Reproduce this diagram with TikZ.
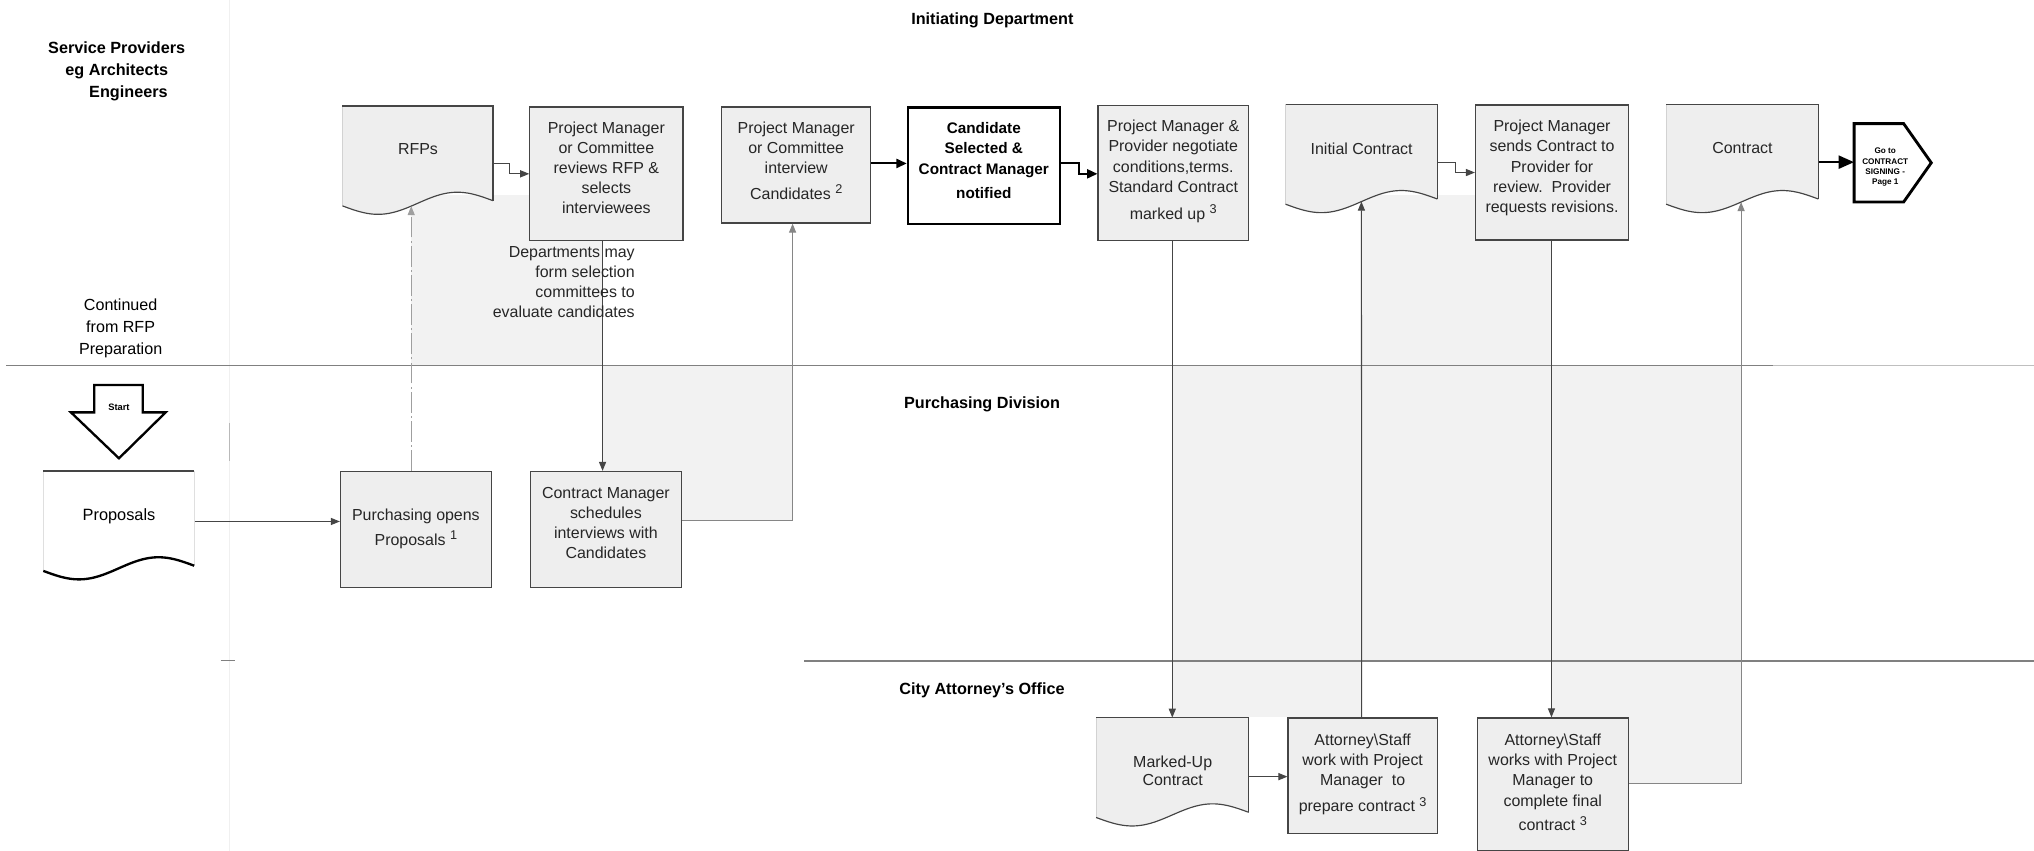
\documentclass[tikz,border=0pt]{standalone}
\usepackage{fontspec}
\setmainfont{Liberation Sans}
\usetikzlibrary{arrows.meta,calc}

\definecolor{boxfill}{HTML}{EEEEEE}
\definecolor{shadefill}{HTML}{F2F2F2}
\definecolor{ink}{HTML}{262626}
\definecolor{edge}{HTML}{454545}
\definecolor{laneline}{HTML}{808080}

% raised footnote number after a line of text
\newcommand{\upnum}[1]{\raisebox{4.3pt}{\fontsize{9.8}{9.8}\selectfont #1}}

% paper document symbol drawn over an (invisible) anchor node
\newcommand{\paperdoc}[3]{% #1 node name, #2 width, #3 fill colour
  \begin{scope}[shift={(#1.north west)}]
    \fill[#3] (0,0) -- (#2,0) -- (#2,73)
      -- plot[domain=#2:0,samples=60] (\x,{77-4*\x/#2+7.5*sin((360/#2)*\x)}) -- cycle;
    \draw[lightedge] (0,0) -- (0,77);
    \draw[docedge] (0,0) -- (#2,0) -- (#2,73);
    \draw[docedge] plot[domain=#2:0,samples=60] (\x,{77-4*\x/#2+7.5*sin((360/#2)*\x)});
  \end{scope}}

\begin{document}
\begin{tikzpicture}[x=1pt,y=-1pt,
  box/.style={draw=edge,line width=0.9pt,fill=boxfill,anchor=north west,inner sep=0pt},
  docbox/.style={anchor=north west,inner sep=0pt,minimum height=83pt},
  txt/.style={align=center,inner sep=0pt,text=ink,font=\fontsize{12.3}{15.5}\selectfont},
  btxt/.style={align=center,inner sep=0pt,text=black,font=\bfseries\fontsize{11.8}{15.7}\selectfont},
  lanetitle/.style={inner sep=0pt,font=\bfseries\fontsize{12.5}{17}\selectfont},
  lightedge/.style={draw=gray!35,line width=0.6pt},
  docedge/.style={draw=edge,line width=0.9pt},
  conn/.style={draw=edge,line width=0.8pt,-{Triangle[length=7pt,width=5.5pt]}},
  connpale/.style={conn,draw=edge!65},
  conndash/.style={conn,draw=gray!75,dash pattern=on 16pt off 2.5pt on 1.5pt off 2.5pt},
  connbold/.style={draw=black,line width=1.6pt,-{Triangle[length=8pt,width=7pt]}},
  connbig/.style={draw=black,line width=2pt,-{Triangle[length=12pt,width=10pt]}},
]
\useasboundingbox (0,0) rectangle (1568,656);

% faint margin guide
\draw[gray!12,line width=0.8pt] (177,0) -- (177,656);
\draw[gray!55,line width=0.8pt] (177,326) -- (177,355);
\draw[laneline,line width=0.8pt] (170,509.5) -- (181,509.5);

% shaded bands behind the flow
\fill[shadefill] (317,150) rectangle (465,282);
\fill[shadefill] (465,282) rectangle (611,401);
\fill[shadefill] (1050,150) rectangle (1196,282);
\fill[shadefill] (904,282) rectangle (1342,509.5);
\fill[shadefill] (904,509.5) rectangle (1050,553);
\fill[shadefill] (1196,509.5) rectangle (1342,604);

% lane dividers
\draw[laneline,line width=0.9pt] (5,282) -- (1367,282);
\draw[gray!50,line width=0.8pt] (1367,282) -- (1568,282);
\draw[laneline,line width=0.9pt] (620,509.5) -- (1568,509.5);

% lane titles
\node[lanetitle] (t-init) at (765,16) {Initiating Department};
\node[lanetitle] (t-purch) at (757,312) {Purchasing Division};
\node[lanetitle] (t-city) at (757,532) {City Attorney's Office};
\node[lanetitle,align=center] (t-prov) at (90,55) {Service Providers\\eg Architects\\\hspace*{18pt}Engineers};
\node[txt,text=black,font=\fontsize{12.4}{16.8}\selectfont] (t-cont) at (93,253.3) {Continued\\from RFP\\Preparation};

% process boxes
\node[box,minimum width=118pt,minimum height=103pt] (pm1) at (408,82) {};
\node[box,minimum width=114.7pt,minimum height=89.5pt] (pm2) at (556,82) {};
\node[box,fill=white,draw=black,line width=1.8pt,minimum width=117pt,minimum height=90pt] (cand) at (699,82) {};
\node[box,minimum width=116pt,minimum height=104pt] (pm3) at (846,81) {};
\node[box,minimum width=118pt,minimum height=104pt] (pm4) at (1137,80.5) {};
\node[box,minimum width=116.3pt,minimum height=89.2pt] (pur) at (262,363) {};
\node[box,minimum width=116.3pt,minimum height=89.2pt] (cm) at (408.5,363) {};
\node[box,minimum width=115pt,minimum height=89.2pt] (att1) at (992.5,553) {};
\node[box,minimum width=116.5pt,minimum height=102pt] (att2) at (1138.3,553) {};

% documents
\node[docbox,minimum width=116pt] (rfps) at (264,81.7) {};
\node[docbox,minimum width=117pt] (ic) at (991,80.4) {};
\node[docbox,minimum width=117.3pt] (ct) at (1284.4,80.4) {};
\node[docbox,minimum width=116.3pt] (props) at (33.4,363.1) {};
\node[docbox,minimum width=117.6pt] (mk) at (845,553.2) {};
\paperdoc{rfps}{116}{boxfill}
\paperdoc{ic}{117}{boxfill}
\paperdoc{ct}{117.3}{boxfill}
\paperdoc{mk}{117.6}{boxfill}
\begin{scope}[shift={(props.north west)}]
  \fill[white] (0,0) -- (116.3,0) -- (116.3,73)
    -- plot[domain=116.3:0,samples=60] (\x,{77-4*\x/116.3+7.5*sin((360/116.3)*\x)}) -- cycle;
  \draw[gray!25,line width=0.6pt] (0,0) -- (0,77) (116.3,0) -- (116.3,73);
  \draw[edge,line width=1pt] (0,0) -- (116.3,0);
  \draw[black,line width=1.8pt] plot[domain=116.3:0,samples=60] (\x,{77-4*\x/116.3+7.5*sin((360/116.3)*\x)});
\end{scope}

% points where arrows meet the wavy document edges
\coordinate (rfps-in) at ($(rfps.north west)+(53,77.2)$);
\coordinate (ic-in) at ($(ic.north west)+(58.5,75)$);
\coordinate (ct-in) at ($(ct.north west)+(57.8,75.4)$);

% start marker
\draw[black,line width=1.8pt,fill=white,line join=miter]
  (72.7,296.8) -- (110,296.8) -- (110,317.9) -- (127.7,317.9) -- (91.7,353.3)
  -- (54.7,317.9) -- (72.7,317.9) -- cycle;
\node[inner sep=0pt,font=\bfseries\fontsize{7.2}{8}\selectfont] (start) at (91.7,313.6) {Start};

% off-page connector
\node[inner sep=0pt,minimum width=47.6pt,minimum height=60pt] (goto) at (1453.3,125.5) {};
\draw[black,line width=2.2pt,fill=white,line join=miter]
  (goto.north west) -- ([xshift=-9.8pt]goto.north east) -- ([xshift=11.5pt]goto.east)
  -- ([xshift=-9.8pt]goto.south east) -- (goto.south west) -- cycle;
\node[inner sep=0pt,align=center,font=\bfseries\fontsize{6.3}{7.9}\selectfont] (goto-t)
  at ([yshift=-3.5pt]goto.center) {Go to\\CONTRACT\\SIGNING -\\Page 1};

% connectors
\draw[conn] (props.east |- 0,402) -- (pur.west |- 0,402);
\draw[conndash] (pur.north -| 317,0) -- (rfps-in);
\draw[conn] (rfps.north east |- 0,126) -- ++(12,0) |- (pm1.west |- 0,134);
\draw[conn] (pm1.south -| 464.5,0) -- (cm.north -| 464.5,0);
\draw[connpale] (cm.east |- 0,401) -| (pm2.south -| 611,0);
\draw[connbold] (pm2.east |- 0,126) -- (cand.west |- 0,126);
\draw[connbold] (cand.east |- 0,126) -- ++(14,0) |- (pm3.west |- 0,134);
\draw[conn] (pm3.south -| 903.7,0) -- (mk.north -| 903.7,0);
\draw[conn] (mk.north east |- 0,598.7) -- (att1.west |- 0,598.7);
\draw[conn] (att1.north -| 1049.7,0) -- (ic-in);
\draw[conn] (ic.north east |- 0,125) -- ++(13.3,0) |- (pm4.west |- 0,133);
\draw[conn] (pm4.south -| 1196,0) -- (att2.north -| 1196,0);
\draw[connpale] (att2.east |- 0,604) -| (ct-in);
\draw[connbig] (ct.north east |- 0,125) -- (goto.west |- 0,125);

% box texts
\node[txt,anchor=north] (pm1-t) at ([yshift=-11.5pt]pm1.north) {Project Manager\\or Committee\\reviews RFP \&\\selects\\interviewees};
\node[txt,anchor=north] (pm2-t) at ([yshift=-11.5pt]pm2.north) {Project Manager\\or Committee\\interview\\[4.5pt]Candidates \upnum{2}};
\node[btxt,anchor=north] (cand-t) at ([yshift=-12pt]cand.north) {Candidate\\Selected \&\\Contract Manager\\[3pt]notified};
\node[txt,anchor=north] (pm3-t) at ([yshift=-11.5pt]pm3.north) {Project Manager \&\\Provider negotiate\\conditions,terms.\\Standard Contract\\[5.5pt]marked up \upnum{3}};
\node[txt,anchor=north] (pm4-t) at ([yshift=-12pt]pm4.north) {Project Manager\\sends Contract to\\Provider for\\review.\ \ Provider\\requests revisions.};
\node[txt,anchor=north] (pur-t) at ([yshift=-28.8pt]pur.north) {Purchasing opens\\[4pt]Proposals \upnum{1}};
\node[txt,anchor=north] (cm-t) at ([yshift=-12.3pt]cm.north) {Contract Manager\\schedules\\interviews with\\Candidates};
\node[txt,anchor=north] (att1-t) at ([yshift=-12.8pt]att1.north) {Attorney\textbackslash Staff\\work with Project\\Manager\ \ to\\[4.5pt]prepare contract \upnum{3}};
\node[txt,anchor=north] (att2-t) at ([yshift=-12.8pt]att2.north) {Attorney\textbackslash Staff\\works with Project\\Manager to\\complete final\\[3.5pt]contract \upnum{3}};

% document texts
\node[txt,anchor=north] (rfps-t) at ([yshift=-29pt]rfps.north) {RFPs};
\node[txt,anchor=north] (ic-t) at ([yshift=-29.5pt]ic.north) {Initial Contract};
\node[txt,anchor=north] (ct-t) at ([yshift=-29pt]ct.north) {Contract};
\node[txt,anchor=north,text=black,font=\fontsize{12.6}{15}\selectfont] (props-t) at ([yshift=-28.5pt]props.north) {Proposals};
\node[txt,anchor=north,font=\fontsize{12.3}{14.1}\selectfont] (mk-t) at ([yshift=-29.5pt]mk.north) {Marked-Up\\Contract};

% side note
\node[txt,align=right,anchor=north east,font=\fontsize{12.3}{15.6}\selectfont] (dept-note) at (489.5,189.6) {Departments may\\form selection\\committees to\\evaluate candidates};

\end{tikzpicture}
\end{document}
